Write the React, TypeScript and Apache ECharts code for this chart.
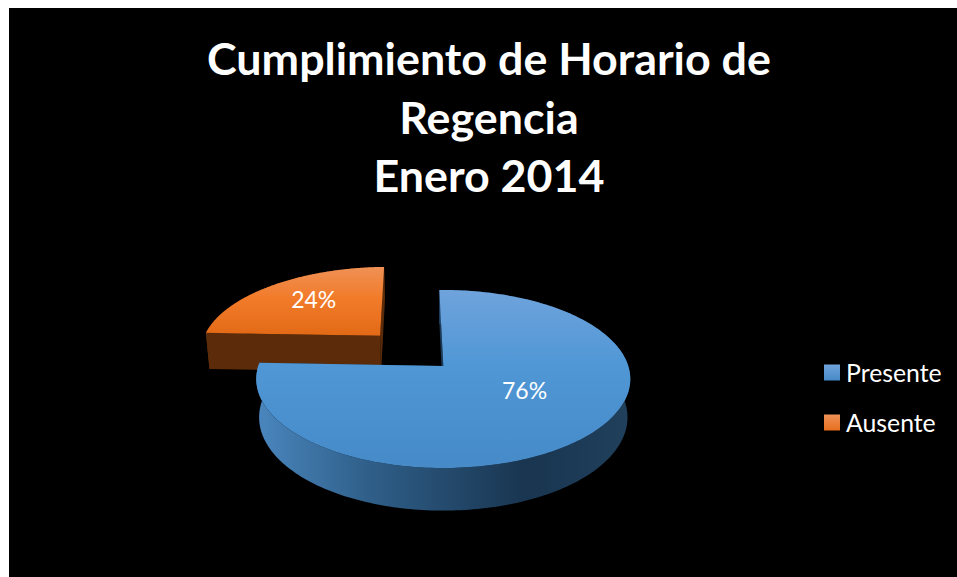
import React, { useEffect, useRef } from "react";
import * as echarts from "echarts";

const categories = ["Presente", "Ausente"];
const values = [76, 24];
const percentLabels = ["76%", "24%"];
const titleText = "Cumplimiento de Horario de\nRegencia\nEnero 2014";

const OX = 9;
const OY = 8;
const FONT = "Lato, 'Open Sans', sans-serif";

// projected pie geometry (page pixels)
const APEX_X = 443.3 - OX;
const APEX_Y = 366 - OY;
const A = 185;
const B = 87.1;
const K = 0.146;
const WALL = 37.7;
const SHRINK = 0.985;
const START_DEG = -1.4;
const explode = [0, 0.512];
const labelRadius = [0.5, 0.66];
const labelDelta = [-13, 4];

const topGrad = [
  { type: "linear", x: 0, y: 0, x2: 0, y2: 1, colorStops: [
    { offset: 0, color: "#6FA3DC" }, { offset: 0.42, color: "#5097D6" }, { offset: 1, color: "#468AC8" } ] },
  { type: "linear", x: 0, y: 0, x2: 0, y2: 1, colorStops: [
    { offset: 0, color: "#EF9156" }, { offset: 0.45, color: "#F27B2A" }, { offset: 1, color: "#E26A17" } ] },
];
const wallGrad = [
  { type: "linear", x: 0, y: 0, x2: 1, y2: 0, colorStops: [
    { offset: 0, color: "#4A86BE" }, { offset: 0.3, color: "#2F5F89" }, { offset: 0.72, color: "#193550" }, { offset: 1, color: "#20405C" } ] },
  { type: "linear", x: 0, y: 0, x2: 1, y2: 0, colorStops: [
    { offset: 0, color: "#5C2C0A" }, { offset: 1, color: "#5C2C0A" } ] },
];
const cutColor = ["#1B3A57", "#5C2C0A"];
const legendGrad = [
  { type: "linear", x: 0, y: 0, x2: 0, y2: 1, colorStops: [ { offset: 0, color: "#6FA3DC" }, { offset: 1, color: "#468AC8" } ] },
  { type: "linear", x: 0, y: 0, x2: 0, y2: 1, colorStops: [ { offset: 0, color: "#EF9156" }, { offset: 1, color: "#E8701E" } ] },
];

const total = values.reduce((a, b) => a + b, 0);
const rad = (d: number) => (d * Math.PI) / 180;

function disc(deg: number, r: number, ex: number, exDeg: number) {
  return {
    u: r * Math.sin(rad(deg)) + ex * Math.sin(rad(exDeg)),
    v: -r * Math.cos(rad(deg)) - ex * Math.cos(rad(exDeg)),
  };
}
function topPoint(p: { u: number; v: number }) {
  const w = 1 - K * p.v;
  return [APEX_X + (A * p.u) / w, APEX_Y + (B * p.v) / w];
}
function bottomPoint(p: { u: number; v: number }) {
  const w = 1 - K * p.v;
  return [APEX_X + (SHRINK * A * p.u) / w, APEX_Y + (SHRINK * B * p.v) / w + WALL / w];
}

function renderSlice(index: number) {
  const before = values.slice(0, index).reduce((a, b) => a + b, 0);
  const a0 = START_DEG + (before / total) * 360;
  const a1 = a0 + (values[index] / total) * 360;
  const mid = (a0 + a1) / 2;
  const ex = explode[index];

  const rimT: number[][] = [];
  const rimB: number[][] = [];
  for (let i = 0; i <= 240; i++) {
    const p = disc(a0 + ((a1 - a0) * i) / 240, 1, ex, mid);
    rimT.push(topPoint(p));
    rimB.push(bottomPoint(p));
  }
  const cT = topPoint(disc(0, 0, ex, mid));
  const cB = bottomPoint(disc(0, 0, ex, mid));
  const silent = true;
  const lp = topPoint(disc(mid + labelDelta[index], labelRadius[index], ex, mid));

  return {
    type: "group",
    children: [
      { type: "polygon", silent, shape: { points: [cT, rimT[rimT.length - 1], rimB[rimB.length - 1], cB] }, style: { fill: cutColor[index] } },
      { type: "polygon", silent, shape: { points: [cT, rimT[0], rimB[0], cB] }, style: { fill: cutColor[index] } },
      { type: "polygon", silent, shape: { points: [...rimT, ...rimB.slice().reverse()] }, style: { fill: wallGrad[index] } },
      { type: "polygon", silent, shape: { points: [cT, ...rimT] }, style: { fill: topGrad[index] } },
      { type: "text", silent, x: lp[0], y: lp[1], style: { text: percentLabels[index], fill: "#fff", font: `23px ${FONT}`, align: "center", verticalAlign: "middle" } },
    ],
  };
}

export default function App() {
  const ref = useRef<HTMLDivElement>(null);
  useEffect(() => {
    document.body.style.margin = "0";
    document.body.style.overflow = "hidden";
    const chart = echarts.init(ref.current!, null, { renderer: "svg" });
    chart.setOption({
      animation: false,
      backgroundColor: "#000",
      title: {
        text: titleText,
        left: 489 - OX,
        top: 21,
        padding: 0,
        textAlign: "center",
        textStyle: { color: "#fff", fontFamily: FONT, fontWeight: "bold", fontSize: 44.8, lineHeight: 58.5 },
      },
      legend: {
        orient: "vertical",
        left: 824 - OX,
        top: 360 - OY,
        padding: 0,
        itemWidth: 16,
        itemHeight: 16,
        itemGap: 25,
        icon: "rect",
        data: categories,
        textStyle: { color: "#fff", fontFamily: FONT, fontSize: 24.8, padding: [0, 0, 0, 1] },
      },
      series: [1, 0].map((i) => ({
        type: "custom",
        name: categories[i],
        coordinateSystem: "none",
        data: [values[i]],
        itemStyle: { color: legendGrad[i] },
        renderItem: () => renderSlice(i),
      })),
    });
    return () => chart.dispose();
  }, []);
  return (
    <div style={{ position: "fixed", left: 0, top: 0, width: 957, height: 577, background: "#fff" }}>
      <div ref={ref} style={{ position: "absolute", left: OX, top: OY, width: 957 - OX, height: 577 - OY }} />
    </div>
  );
}
